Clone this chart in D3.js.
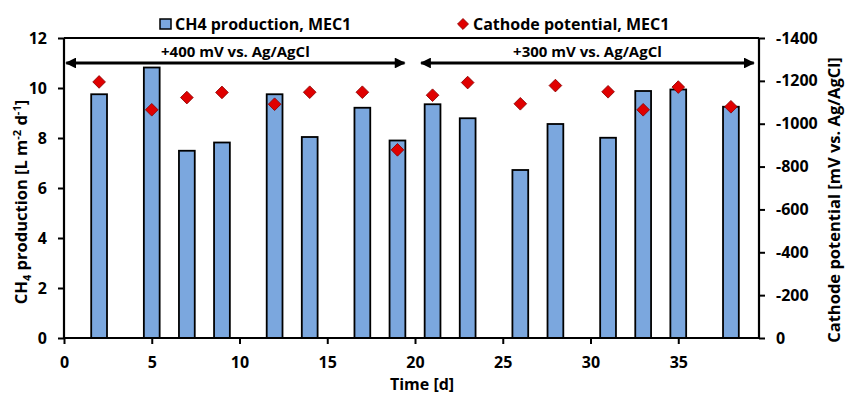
<!DOCTYPE html>
<html>
<head>
<meta charset="utf-8">
<script src="https://cdn.jsdelivr.net/npm/d3@7"></script>
<style>
  body { margin: 0; background: #fff; }
  svg { display: block; font-family: "Open Sans", sans-serif; font-weight: bold; }
</style>
</head>
<body>
<script>
// data
var days = [2, 5, 7, 9, 12, 14, 17, 19, 21, 23, 26, 28, 31, 33, 35, 38];
var ch4 = [9.75, 10.82, 7.49, 7.82, 9.75, 8.04, 9.21, 7.9, 9.35, 8.79, 6.72, 8.56, 8.01, 9.88, 9.94, 9.25];
var potential = [-1195, -1065, -1122, -1146, -1091, -1147, -1147, -878, -1133, -1192, -1093, -1178, -1149, -1065, -1171, -1079];
var xTicks = [0, 5, 10, 15, 20, 25, 30, 35];
var leftTicks = [0, 2, 4, 6, 8, 10, 12];
var rightTicks = [0, -200, -400, -600, -800, -1000, -1200, -1400];
var phaseLabels = ['+400 mV vs. Ag/AgCl', '+300 mV vs. Ag/AgCl'];
var phaseStart = [0.13, 20.35];
var phaseEnd = [19.4, 39.3];

var width = 845, height = 394;
var margin = {top: 38, right: 86, bottom: 56, left: 64};

var svg = d3.select('body').append('svg')
    .attr('width', width)
    .attr('height', height);

var x = d3.scaleLinear().domain([0, 39.6]).range([margin.left, width - margin.right]);
var y = d3.scaleLinear().domain([0, 12]).range([height - margin.bottom, margin.top]);
var y2 = d3.scaleLinear().domain([0, -1400]).range([height - margin.bottom, margin.top]);

var barW = x(0.9) - x(0);

// top frame line
svg.append('line')
    .attr('x1', x(0)).attr('x2', x(39.6))
    .attr('y1', y(12)).attr('y2', y(12))
    .attr('stroke', '#000').attr('stroke-width', 2);

// bars
svg.selectAll('rect.bar')
    .data(days)
    .enter().append('rect')
    .attr('class', 'bar')
    .attr('x', function(d){ return x(d) - barW / 2; })
    .attr('width', barW)
    .attr('y', function(d, i){ return y(ch4[i]); })
    .attr('height', function(d, i){ return y(0) - y(ch4[i]); })
    .attr('fill', '#7ba7de')
    .attr('stroke', '#000')
    .attr('stroke-width', 1.8);

// diamonds
var diamond = d3.symbol().type(d3.symbolSquare).size(80);
svg.selectAll('path.pt')
    .data(days)
    .enter().append('path')
    .attr('class', 'pt')
    .attr('d', diamond)
    .attr('transform', function(d, i){ return 'translate(' + x(d) + ',' + y2(potential[i]) + ') rotate(45)'; })
    .attr('fill', '#e00000')
    .attr('stroke', '#8a0000')
    .attr('stroke-width', 0.8);

// phase arrows
var defs = svg.append('defs');
defs.append('marker')
    .attr('id', 'head')
    .attr('viewBox', '0 0 10 10')
    .attr('refX', 9).attr('refY', 5)
    .attr('markerWidth', 4.2).attr('markerHeight', 3.6)
    .attr('orient', 'auto-start-reverse')
    .append('path')
    .attr('d', 'M0,0L10,5L0,10Z')
    .attr('fill', '#000');

phaseLabels.forEach(function(lbl, i){
    svg.append('line')
        .attr('x1', x(phaseStart[i])).attr('x2', x(phaseEnd[i]))
        .attr('y1', y(11)).attr('y2', y(11))
        .attr('stroke', '#000').attr('stroke-width', 3)
        .attr('marker-start', 'url(#head)')
        .attr('marker-end', 'url(#head)');
    svg.append('text')
        .attr('x', (x(phaseStart[i]) + x(phaseEnd[i])) / 2)
        .attr('y', y(11) - 6)
        .attr('text-anchor', 'middle')
        .attr('font-size', 15)
        .text(lbl);
});

// axes
var fmt = function(d){ return String(d); };
var xAxis = svg.append('g')
    .attr('transform', 'translate(0,' + y(0) + ')')
    .call(d3.axisBottom(x).tickValues(xTicks).tickFormat(fmt).tickSize(6).tickPadding(13));
var yAxis = svg.append('g')
    .attr('transform', 'translate(' + x(0) + ',0)')
    .call(d3.axisLeft(y).tickValues(leftTicks).tickFormat(fmt).tickSize(6).tickPadding(11));
var y2Axis = svg.append('g')
    .attr('transform', 'translate(' + x(39.6) + ',0)')
    .call(d3.axisRight(y2).tickValues(rightTicks).tickFormat(fmt).tickSize(6).tickPadding(11));

[xAxis, yAxis, y2Axis].forEach(function(g){
    g.select('.domain').attr('stroke', '#000').attr('stroke-width', 2.2);
    g.selectAll('.tick line').attr('stroke', '#000').attr('stroke-width', 2);
    g.selectAll('.tick text').attr('font-size', 16).attr('font-family', '"Open Sans", sans-serif').attr('font-weight', 'bold').attr('fill', '#000');
});
// remove end caps of domain paths
xAxis.select('.domain').attr('d', 'M' + x(0) + ',0H' + x(39.6));
yAxis.select('.domain').attr('d', 'M0,' + y(0) + 'V' + y(12));
y2Axis.select('.domain').attr('d', 'M0,' + y2(0) + 'V' + y2(-1400));

// axis titles
svg.append('text')
    .attr('x', 422)
    .attr('y', 390)
    .attr('text-anchor', 'middle')
    .attr('font-size', 16)
    .text('Time [d]');

var lt = svg.append('text')
    .attr('transform', 'translate(27,202) rotate(-90)')
    .attr('text-anchor', 'middle')
    .attr('font-size', 16.5);
lt.append('tspan').text('CH');
lt.append('tspan').attr('font-size', 11).attr('dy', 4).text('4');
lt.append('tspan').attr('dy', -4).text(' production [L m');
lt.append('tspan').attr('font-size', 11).attr('dy', -6).text('-2');
lt.append('tspan').attr('dy', 6).text(' d');
lt.append('tspan').attr('font-size', 11).attr('dy', -6).text('-1');
lt.append('tspan').attr('dy', 6).text(']');

svg.append('text')
    .attr('transform', 'translate(840,200) rotate(-90)')
    .attr('text-anchor', 'middle')
    .attr('font-size', 16.5)
    .text('Cathode potential [mV vs. Ag/AgCl]');

// legend
var leg = svg.append('g').attr('font-size', 16);
leg.append('rect')
    .attr('x', 160).attr('y', 19).attr('width', 11).attr('height', 10)
    .attr('fill', '#7ba7de').attr('stroke', '#000').attr('stroke-width', 1.5);
leg.append('text').attr('x', 175).attr('y', 30).text('CH4 production, MEC1');
leg.append('path')
    .attr('d', d3.symbol().type(d3.symbolSquare).size(60))
    .attr('transform', 'translate(463,24) rotate(45)')
    .attr('fill', '#e00000').attr('stroke', '#8a0000').attr('stroke-width', 0.8);
leg.append('text').attr('x', 473).attr('y', 30).text('Cathode potential, MEC1');
</script>
</body>
</html>
